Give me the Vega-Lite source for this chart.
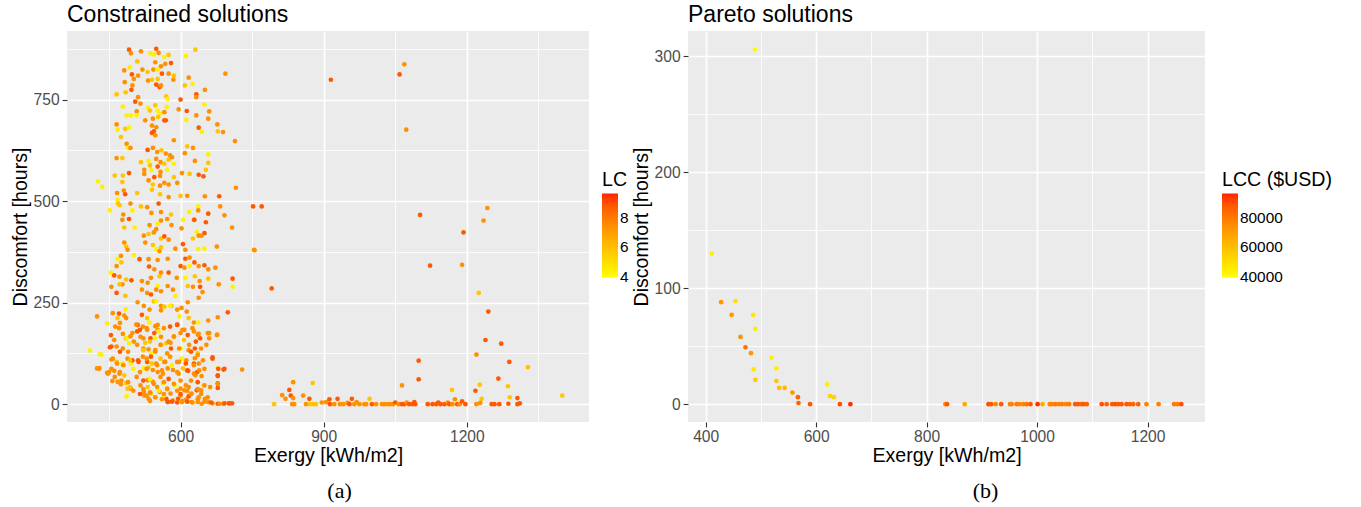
{
"$schema": "https://vega.github.io/schema/vega-lite/v6.json",
"background": "white",
"padding": {"left": 10, "top": 4, "right": 0, "bottom": 0},
"spacing": 2,
"resolve": {"scale": {"color": "independent"}, "legend": {"color": "independent"}},
"datasets": {
"constrained": [
{"exergy":492,"discomfort":873,"lcc":88000},{"exergy":549,"discomfort":875,"lcc":88000},{"exergy":496,"discomfort":864,"lcc":74000},{"exergy":517,"discomfort":869,"lcc":74000},{"exergy":537,"discomfort":864,"lcc":44000},{"exergy":544,"discomfort":861,"lcc":44000},{"exergy":554,"discomfort":865,"lcc":74000},{"exergy":566,"discomfort":855,"lcc":44000},{"exergy":575,"discomfort":860,"lcc":58000},{"exergy":611,"discomfort":857,"lcc":44000},{"exergy":631,"discomfort":873,"lcc":58000},{"exergy":568,"discomfort":838,"lcc":74000},{"exergy":580,"discomfort":840,"lcc":88000},{"exergy":547,"discomfort":842,"lcc":74000},{"exergy":559,"discomfort":832,"lcc":74000},{"exergy":509,"discomfort":844,"lcc":58000},{"exergy":494,"discomfort":830,"lcc":44000},{"exergy":482,"discomfort":822,"lcc":74000},{"exergy":520,"discomfort":824,"lcc":74000},{"exergy":531,"discomfort":818,"lcc":58000},{"exergy":543,"discomfort":824,"lcc":74000},{"exergy":552,"discomfort":824,"lcc":44000},{"exergy":498,"discomfort":812,"lcc":88000},{"exergy":502,"discomfort":801,"lcc":74000},{"exergy":511,"discomfort":809,"lcc":74000},{"exergy":561,"discomfort":814,"lcc":88000},{"exergy":575,"discomfort":814,"lcc":74000},{"exergy":586,"discomfort":809,"lcc":58000},{"exergy":617,"discomfort":804,"lcc":74000},{"exergy":585,"discomfort":799,"lcc":74000},{"exergy":532,"discomfort":797,"lcc":74000},{"exergy":540,"discomfort":799,"lcc":58000},{"exergy":552,"discomfort":801,"lcc":58000},{"exergy":483,"discomfort":793,"lcc":74000},{"exergy":485,"discomfort":768,"lcc":58000},{"exergy":499,"discomfort":785,"lcc":74000},{"exergy":549,"discomfort":787,"lcc":88000},{"exergy":556,"discomfort":781,"lcc":88000},{"exergy":559,"discomfort":785,"lcc":74000},{"exergy":609,"discomfort":785,"lcc":58000},{"exergy":625,"discomfort":789,"lcc":44000},{"exergy":651,"discomfort":774,"lcc":74000},{"exergy":497,"discomfort":774,"lcc":88000},{"exergy":466,"discomfort":763,"lcc":58000},{"exergy":633,"discomfort":763,"lcc":88000},{"exergy":633,"discomfort":756,"lcc":74000},{"exergy":570,"discomfort":758,"lcc":58000},{"exergy":573,"discomfort":752,"lcc":44000},{"exergy":600,"discomfort":750,"lcc":88000},{"exergy":694,"discomfort":814,"lcc":74000},{"exergy":511,"discomfort":756,"lcc":74000},{"exergy":505,"discomfort":745,"lcc":88000},{"exergy":516,"discomfort":740,"lcc":74000},{"exergy":479,"discomfort":733,"lcc":44000},{"exergy":532,"discomfort":730,"lcc":44000},{"exergy":536,"discomfort":723,"lcc":58000},{"exergy":547,"discomfort":736,"lcc":58000},{"exergy":552,"discomfort":723,"lcc":44000},{"exergy":557,"discomfort":715,"lcc":44000},{"exergy":566,"discomfort":719,"lcc":74000},{"exergy":571,"discomfort":732,"lcc":44000},{"exergy":508,"discomfort":721,"lcc":74000},{"exergy":508,"discomfort":711,"lcc":44000},{"exergy":487,"discomfort":711,"lcc":44000},{"exergy":496,"discomfort":711,"lcc":44000},{"exergy":542,"discomfort":703,"lcc":74000},{"exergy":553,"discomfort":707,"lcc":58000},{"exergy":566,"discomfort":699,"lcc":88000},{"exergy":569,"discomfort":699,"lcc":88000},{"exergy":526,"discomfort":699,"lcc":74000},{"exergy":596,"discomfort":726,"lcc":74000},{"exergy":613,"discomfort":722,"lcc":88000},{"exergy":650,"discomfort":738,"lcc":44000},{"exergy":660,"discomfort":721,"lcc":74000},{"exergy":633,"discomfort":711,"lcc":74000},{"exergy":612,"discomfort":700,"lcc":44000},{"exergy":658,"discomfort":703,"lcc":74000},{"exergy":466,"discomfort":689,"lcc":74000},{"exergy":484,"discomfort":678,"lcc":58000},{"exergy":492,"discomfort":681,"lcc":44000},{"exergy":540,"discomfort":686,"lcc":74000},{"exergy":549,"discomfort":682,"lcc":74000},{"exergy":544,"discomfort":672,"lcc":88000},{"exergy":540,"discomfort":668,"lcc":88000},{"exergy":547,"discomfort":662,"lcc":74000},{"exergy":468,"discomfort":676,"lcc":44000},{"exergy":475,"discomfort":658,"lcc":58000},{"exergy":638,"discomfort":681,"lcc":88000},{"exergy":645,"discomfort":670,"lcc":44000},{"exergy":677,"discomfort":689,"lcc":74000},{"exergy":678,"discomfort":672,"lcc":58000},{"exergy":689,"discomfort":670,"lcc":74000},{"exergy":714,"discomfort":648,"lcc":74000},{"exergy":586,"discomfort":650,"lcc":74000},{"exergy":487,"discomfort":641,"lcc":74000},{"exergy":490,"discomfort":631,"lcc":44000},{"exergy":495,"discomfort":631,"lcc":74000},{"exergy":531,"discomfort":626,"lcc":88000},{"exergy":542,"discomfort":631,"lcc":74000},{"exergy":551,"discomfort":621,"lcc":74000},{"exergy":560,"discomfort":625,"lcc":58000},{"exergy":569,"discomfort":617,"lcc":74000},{"exergy":578,"discomfort":613,"lcc":74000},{"exergy":614,"discomfort":635,"lcc":58000},{"exergy":626,"discomfort":631,"lcc":74000},{"exergy":658,"discomfort":615,"lcc":44000},{"exergy":609,"discomfort":618,"lcc":74000},{"exergy":466,"discomfort":606,"lcc":74000},{"exergy":478,"discomfort":606,"lcc":58000},{"exergy":517,"discomfort":596,"lcc":58000},{"exergy":533,"discomfort":599,"lcc":44000},{"exergy":536,"discomfort":588,"lcc":58000},{"exergy":549,"discomfort":604,"lcc":74000},{"exergy":558,"discomfort":596,"lcc":74000},{"exergy":566,"discomfort":592,"lcc":58000},{"exergy":575,"discomfort":602,"lcc":58000},{"exergy":582,"discomfort":608,"lcc":74000},{"exergy":586,"discomfort":592,"lcc":44000},{"exergy":630,"discomfort":599,"lcc":74000},{"exergy":658,"discomfort":594,"lcc":58000},{"exergy":653,"discomfort":577,"lcc":58000},{"exergy":524,"discomfort":577,"lcc":74000},{"exergy":539,"discomfort":576,"lcc":44000},{"exergy":552,"discomfort":585,"lcc":88000},{"exergy":558,"discomfort":572,"lcc":74000},{"exergy":572,"discomfort":577,"lcc":44000},{"exergy":462,"discomfort":563,"lcc":58000},{"exergy":479,"discomfort":563,"lcc":58000},{"exergy":492,"discomfort":569,"lcc":88000},{"exergy":427,"discomfort":549,"lcc":44000},{"exergy":436,"discomfort":535,"lcc":44000},{"exergy":524,"discomfort":567,"lcc":74000},{"exergy":545,"discomfort":559,"lcc":88000},{"exergy":557,"discomfort":562,"lcc":74000},{"exergy":586,"discomfort":559,"lcc":58000},{"exergy":603,"discomfort":569,"lcc":74000},{"exergy":619,"discomfort":567,"lcc":58000},{"exergy":638,"discomfort":565,"lcc":88000},{"exergy":648,"discomfort":561,"lcc":88000},{"exergy":593,"discomfort":545,"lcc":74000},{"exergy":478,"discomfort":547,"lcc":58000},{"exergy":481,"discomfort":526,"lcc":74000},{"exergy":484,"discomfort":517,"lcc":88000},{"exergy":533,"discomfort":551,"lcc":74000},{"exergy":542,"discomfort":541,"lcc":58000},{"exergy":557,"discomfort":538,"lcc":74000},{"exergy":566,"discomfort":545,"lcc":74000},{"exergy":575,"discomfort":541,"lcc":74000},{"exergy":540,"discomfort":528,"lcc":58000},{"exergy":557,"discomfort":517,"lcc":58000},{"exergy":575,"discomfort":510,"lcc":74000},{"exergy":509,"discomfort":520,"lcc":58000},{"exergy":467,"discomfort":520,"lcc":74000},{"exergy":468,"discomfort":503,"lcc":44000},{"exergy":469,"discomfort":494,"lcc":58000},{"exergy":472,"discomfort":490,"lcc":58000},{"exergy":495,"discomfort":494,"lcc":74000},{"exergy":499,"discomfort":477,"lcc":44000},{"exergy":480,"discomfort":467,"lcc":74000},{"exergy":517,"discomfort":487,"lcc":58000},{"exergy":530,"discomfort":485,"lcc":74000},{"exergy":539,"discomfort":471,"lcc":74000},{"exergy":554,"discomfort":494,"lcc":88000},{"exergy":559,"discomfort":473,"lcc":74000},{"exergy":580,"discomfort":467,"lcc":58000},{"exergy":618,"discomfort":473,"lcc":44000},{"exergy":637,"discomfort":487,"lcc":44000},{"exergy":637,"discomfort":477,"lcc":74000},{"exergy":628,"discomfort":454,"lcc":74000},{"exergy":658,"discomfort":469,"lcc":88000},{"exergy":651,"discomfort":512,"lcc":74000},{"exergy":681,"discomfort":512,"lcc":88000},{"exergy":683,"discomfort":487,"lcc":74000},{"exergy":692,"discomfort":465,"lcc":74000},{"exergy":716,"discomfort":533,"lcc":74000},{"exergy":752,"discomfort":487,"lcc":88000},{"exergy":770,"discomfort":487,"lcc":88000},{"exergy":452,"discomfort":477,"lcc":44000},{"exergy":600,"discomfort":513,"lcc":58000},{"exergy":614,"discomfort":513,"lcc":74000},
{"exergy":478,"discomfort":454,"lcc":74000},{"exergy":492,"discomfort":456,"lcc":88000},{"exergy":559,"discomfort":452,"lcc":74000},{"exergy":572,"discomfort":456,"lcc":74000},{"exergy":605,"discomfort":454,"lcc":44000},{"exergy":629,"discomfort":454,"lcc":88000},{"exergy":653,"discomfort":448,"lcc":88000},{"exergy":708,"discomfort":435,"lcc":74000},{"exergy":482,"discomfort":435,"lcc":58000},{"exergy":504,"discomfort":435,"lcc":44000},{"exergy":535,"discomfort":441,"lcc":74000},{"exergy":552,"discomfort":444,"lcc":44000},{"exergy":549,"discomfort":431,"lcc":74000},{"exergy":581,"discomfort":441,"lcc":74000},{"exergy":602,"discomfort":433,"lcc":74000},{"exergy":634,"discomfort":423,"lcc":44000},{"exergy":650,"discomfort":421,"lcc":88000},{"exergy":644,"discomfort":415,"lcc":74000},
{"exergy":523,"discomfort":415,"lcc":74000},{"exergy":533,"discomfort":419,"lcc":58000},{"exergy":544,"discomfort":423,"lcc":74000},{"exergy":559,"discomfort":408,"lcc":58000},{"exergy":566,"discomfort":413,"lcc":88000},{"exergy":575,"discomfort":405,"lcc":74000},{"exergy":482,"discomfort":398,"lcc":74000},{"exergy":486,"discomfort":388,"lcc":58000},{"exergy":489,"discomfort":380,"lcc":74000},{"exergy":526,"discomfort":398,"lcc":74000},{"exergy":542,"discomfort":392,"lcc":58000},{"exergy":549,"discomfort":382,"lcc":44000},{"exergy":556,"discomfort":377,"lcc":74000},{"exergy":559,"discomfort":386,"lcc":58000},{"exergy":589,"discomfort":383,"lcc":74000},{"exergy":605,"discomfort":394,"lcc":88000},{"exergy":626,"discomfort":408,"lcc":58000},{"exergy":638,"discomfort":415,"lcc":74000},{"exergy":637,"discomfort":382,"lcc":44000},{"exergy":650,"discomfort":383,"lcc":44000},{"exergy":676,"discomfort":388,"lcc":74000},{"exergy":754,"discomfort":380,"lcc":74000},{"exergy":475,"discomfort":365,"lcc":74000},{"exergy":502,"discomfort":367,"lcc":44000},{"exergy":514,"discomfort":357,"lcc":88000},{"exergy":533,"discomfort":357,"lcc":74000},{"exergy":552,"discomfort":355,"lcc":74000},{"exergy":573,"discomfort":358,"lcc":74000},{"exergy":610,"discomfort":380,"lcc":74000},{"exergy":610,"discomfort":358,"lcc":88000},{"exergy":619,"discomfort":361,"lcc":74000},
{"exergy":468,"discomfort":358,"lcc":44000},{"exergy":476,"discomfort":349,"lcc":58000},{"exergy":466,"discomfort":340,"lcc":74000},{"exergy":454,"discomfort":324,"lcc":44000},{"exergy":461,"discomfort":317,"lcc":88000},{"exergy":472,"discomfort":314,"lcc":74000},{"exergy":486,"discomfort":307,"lcc":58000},{"exergy":478,"discomfort":295,"lcc":74000},{"exergy":497,"discomfort":305,"lcc":88000},{"exergy":534,"discomfort":339,"lcc":88000},{"exergy":545,"discomfort":332,"lcc":74000},{"exergy":556,"discomfort":315,"lcc":58000},{"exergy":559,"discomfort":324,"lcc":74000},{"exergy":538,"discomfort":311,"lcc":74000},{"exergy":575,"discomfort":324,"lcc":88000},{"exergy":592,"discomfort":311,"lcc":74000},{"exergy":600,"discomfort":340,"lcc":88000},{"exergy":608,"discomfort":336,"lcc":74000},{"exergy":619,"discomfort":340,"lcc":44000},{"exergy":629,"discomfort":349,"lcc":88000},{"exergy":638,"discomfort":340,"lcc":74000},{"exergy":650,"discomfort":342,"lcc":88000},{"exergy":658,"discomfort":332,"lcc":74000},{"exergy":673,"discomfort":336,"lcc":74000},{"exergy":630,"discomfort":315,"lcc":58000},{"exergy":640,"discomfort":303,"lcc":74000},{"exergy":658,"discomfort":309,"lcc":58000},{"exergy":610,"discomfort":311,"lcc":44000},{"exergy":709,"discomfort":309,"lcc":88000},{"exergy":709,"discomfort":289,"lcc":44000},{"exergy":680,"discomfort":295,"lcc":74000},{"exergy":519,"discomfort":303,"lcc":74000},{"exergy":531,"discomfort":299,"lcc":74000},{"exergy":552,"discomfort":291,"lcc":44000},
{"exergy":455,"discomfort":289,"lcc":74000},{"exergy":472,"discomfort":295,"lcc":58000},{"exergy":466,"discomfort":274,"lcc":88000},{"exergy":484,"discomfort":267,"lcc":58000},{"exergy":519,"discomfort":282,"lcc":74000},{"exergy":530,"discomfort":274,"lcc":74000},{"exergy":538,"discomfort":270,"lcc":88000},{"exergy":549,"discomfort":282,"lcc":74000},{"exergy":559,"discomfort":278,"lcc":74000},{"exergy":573,"discomfort":291,"lcc":74000},{"exergy":584,"discomfort":282,"lcc":74000},{"exergy":589,"discomfort":266,"lcc":44000},{"exergy":615,"discomfort":291,"lcc":58000},{"exergy":626,"discomfort":289,"lcc":74000},{"exergy":641,"discomfort":289,"lcc":88000},{"exergy":646,"discomfort":276,"lcc":74000},{"exergy":638,"discomfort":262,"lcc":74000},{"exergy":615,"discomfort":251,"lcc":74000},{"exergy":510,"discomfort":251,"lcc":74000},{"exergy":544,"discomfort":253,"lcc":58000},{"exergy":549,"discomfort":253,"lcc":44000},{"exergy":559,"discomfort":242,"lcc":74000},{"exergy":581,"discomfort":242,"lcc":58000},
{"exergy":425,"discomfort":216,"lcc":74000},{"exergy":446,"discomfort":199,"lcc":44000},{"exergy":458,"discomfort":224,"lcc":74000},{"exergy":471,"discomfort":223,"lcc":88000},{"exergy":482,"discomfort":218,"lcc":74000},{"exergy":486,"discomfort":212,"lcc":74000},{"exergy":468,"discomfort":212,"lcc":58000},{"exergy":463,"discomfort":191,"lcc":74000},{"exergy":485,"discomfort":234,"lcc":44000},{"exergy":523,"discomfort":242,"lcc":74000},{"exergy":519,"discomfort":220,"lcc":88000},{"exergy":530,"discomfort":212,"lcc":58000},{"exergy":535,"discomfort":233,"lcc":74000},{"exergy":559,"discomfort":231,"lcc":74000},{"exergy":566,"discomfort":240,"lcc":58000},{"exergy":578,"discomfort":242,"lcc":44000},{"exergy":593,"discomfort":233,"lcc":74000},{"exergy":602,"discomfort":237,"lcc":74000},{"exergy":613,"discomfort":228,"lcc":74000},{"exergy":598,"discomfort":216,"lcc":44000},{"exergy":617,"discomfort":212,"lcc":58000},{"exergy":628,"discomfort":201,"lcc":74000},{"exergy":637,"discomfort":201,"lcc":44000},{"exergy":593,"discomfort":195,"lcc":88000},{"exergy":578,"discomfort":191,"lcc":88000},{"exergy":552,"discomfort":195,"lcc":74000},{"exergy":510,"discomfort":195,"lcc":88000},{"exergy":521,"discomfort":191,"lcc":74000},{"exergy":530,"discomfort":183,"lcc":74000},{"exergy":535,"discomfort":201,"lcc":44000},{"exergy":678,"discomfort":214,"lcc":74000},{"exergy":699,"discomfort":226,"lcc":88000},{"exergy":658,"discomfort":206,"lcc":74000},
{"exergy":454,"discomfort":170,"lcc":88000},{"exergy":471,"discomfort":187,"lcc":74000},{"exergy":479,"discomfort":173,"lcc":74000},{"exergy":461,"discomfort":158,"lcc":74000},{"exergy":492,"discomfort":150,"lcc":44000},{"exergy":486,"discomfort":162,"lcc":74000},{"exergy":452,"discomfort":140,"lcc":88000},{"exergy":479,"discomfort":137,"lcc":74000},{"exergy":499,"discomfort":175,"lcc":74000},{"exergy":509,"discomfort":179,"lcc":88000},{"exergy":516,"discomfort":166,"lcc":74000},{"exergy":526,"discomfort":151,"lcc":58000},{"exergy":537,"discomfort":162,"lcc":88000},{"exergy":545,"discomfort":175,"lcc":88000},{"exergy":552,"discomfort":183,"lcc":74000},{"exergy":559,"discomfort":166,"lcc":74000},{"exergy":570,"discomfort":150,"lcc":58000},{"exergy":579,"discomfort":151,"lcc":74000},{"exergy":586,"discomfort":166,"lcc":74000},{"exergy":600,"discomfort":175,"lcc":74000},{"exergy":608,"discomfort":183,"lcc":74000},{"exergy":615,"discomfort":170,"lcc":88000},{"exergy":628,"discomfort":179,"lcc":74000},{"exergy":638,"discomfort":173,"lcc":74000},{"exergy":641,"discomfort":162,"lcc":88000},{"exergy":657,"discomfort":175,"lcc":74000},{"exergy":676,"discomfort":170,"lcc":74000},{"exergy":660,"discomfort":162,"lcc":74000},{"exergy":522,"discomfort":137,"lcc":74000},{"exergy":533,"discomfort":135,"lcc":74000},{"exergy":538,"discomfort":125,"lcc":44000},{"exergy":547,"discomfort":133,"lcc":74000},{"exergy":559,"discomfort":146,"lcc":58000},{"exergy":580,"discomfort":137,"lcc":88000},{"exergy":600,"discomfort":137,"lcc":44000},{"exergy":617,"discomfort":133,"lcc":74000},{"exergy":630,"discomfort":137,"lcc":88000},{"exergy":636,"discomfort":125,"lcc":58000},{"exergy":630,"discomfort":113,"lcc":74000},
{"exergy":410,"discomfort":132,"lcc":44000},{"exergy":431,"discomfort":123,"lcc":44000},{"exergy":455,"discomfort":110,"lcc":74000},{"exergy":466,"discomfort":104,"lcc":58000},{"exergy":478,"discomfort":100,"lcc":44000},{"exergy":489,"discomfort":112,"lcc":74000},{"exergy":496,"discomfort":100,"lcc":44000},{"exergy":499,"discomfort":108,"lcc":88000},{"exergy":425,"discomfort":88,"lcc":74000},{"exergy":446,"discomfort":77,"lcc":74000},{"exergy":461,"discomfort":82,"lcc":74000},{"exergy":472,"discomfort":75,"lcc":74000},{"exergy":482,"discomfort":71,"lcc":58000},{"exergy":511,"discomfort":108,"lcc":88000},{"exergy":521,"discomfort":117,"lcc":74000},{"exergy":530,"discomfort":104,"lcc":88000},{"exergy":538,"discomfort":117,"lcc":88000},{"exergy":549,"discomfort":100,"lcc":74000},{"exergy":558,"discomfort":112,"lcc":58000},{"exergy":566,"discomfort":104,"lcc":74000},{"exergy":578,"discomfort":117,"lcc":74000},{"exergy":593,"discomfort":104,"lcc":74000},{"exergy":602,"discomfort":112,"lcc":44000},{"exergy":612,"discomfort":108,"lcc":74000},{"exergy":628,"discomfort":100,"lcc":88000},{"exergy":638,"discomfort":100,"lcc":74000},{"exergy":647,"discomfort":108,"lcc":74000},{"exergy":667,"discomfort":115,"lcc":88000},{"exergy":678,"discomfort":88,"lcc":44000},{"exergy":690,"discomfort":85,"lcc":88000},{"exergy":729,"discomfort":85,"lcc":74000},{"exergy":523,"discomfort":88,"lcc":44000},{"exergy":533,"discomfort":90,"lcc":58000},{"exergy":542,"discomfort":84,"lcc":74000},{"exergy":552,"discomfort":79,"lcc":74000},{"exergy":563,"discomfort":75,"lcc":74000},{"exergy":573,"discomfort":88,"lcc":74000},{"exergy":584,"discomfort":84,"lcc":74000},{"exergy":596,"discomfort":75,"lcc":74000},{"exergy":605,"discomfort":88,"lcc":58000},{"exergy":616,"discomfort":82,"lcc":88000},{"exergy":628,"discomfort":75,"lcc":74000},{"exergy":635,"discomfort":79,"lcc":88000},{"exergy":644,"discomfort":69,"lcc":74000},{"exergy":678,"discomfort":69,"lcc":88000},
{"exergy":457,"discomfort":57,"lcc":74000},{"exergy":468,"discomfort":55,"lcc":74000},{"exergy":475,"discomfort":49,"lcc":74000},{"exergy":486,"discomfort":52,"lcc":58000},{"exergy":489,"discomfort":38,"lcc":58000},{"exergy":496,"discomfort":38,"lcc":74000},{"exergy":487,"discomfort":19,"lcc":44000},{"exergy":516,"discomfort":46,"lcc":74000},{"exergy":523,"discomfort":30,"lcc":74000},{"exergy":531,"discomfort":59,"lcc":74000},{"exergy":531,"discomfort":42,"lcc":58000},{"exergy":542,"discomfort":55,"lcc":74000},{"exergy":551,"discomfort":42,"lcc":74000},{"exergy":556,"discomfort":30,"lcc":74000},{"exergy":547,"discomfort":17,"lcc":58000},{"exergy":563,"discomfort":52,"lcc":44000},{"exergy":572,"discomfort":38,"lcc":74000},{"exergy":579,"discomfort":26,"lcc":74000},{"exergy":588,"discomfort":46,"lcc":44000},{"exergy":600,"discomfort":38,"lcc":74000},{"exergy":608,"discomfort":34,"lcc":74000},{"exergy":617,"discomfort":42,"lcc":74000},{"exergy":623,"discomfort":26,"lcc":74000},{"exergy":634,"discomfort":34,"lcc":88000},{"exergy":643,"discomfort":34,"lcc":74000},{"exergy":638,"discomfort":17,"lcc":74000},{"exergy":651,"discomfort":13,"lcc":74000},{"exergy":658,"discomfort":5,"lcc":74000},{"exergy":570,"discomfort":13,"lcc":88000},{"exergy":573,"discomfort":5,"lcc":88000},{"exergy":584,"discomfort":9,"lcc":74000},{"exergy":595,"discomfort":13,"lcc":88000},{"exergy":603,"discomfort":5,"lcc":74000},{"exergy":612,"discomfort":11,"lcc":74000},{"exergy":623,"discomfort":5,"lcc":74000},{"exergy":636,"discomfort":5,"lcc":74000},{"exergy":644,"discomfort":1,"lcc":74000},{"exergy":667,"discomfort":2,"lcc":74000},{"exergy":678,"discomfort":1,"lcc":88000},{"exergy":690,"discomfort":1,"lcc":74000},{"exergy":701,"discomfort":2,"lcc":88000},{"exergy":708,"discomfort":2,"lcc":88000},{"exergy":538,"discomfort":26,"lcc":58000},{"exergy":533,"discomfort":13,"lcc":74000},{"exergy":524,"discomfort":21,"lcc":74000},{"exergy":565,"discomfort":21,"lcc":44000},{"exergy":600,"discomfort":21,"lcc":74000},{"exergy":617,"discomfort":19,"lcc":88000},{"exergy":678,"discomfort":51,"lcc":88000},{"exergy":678,"discomfort":40,"lcc":88000},{"exergy":648,"discomfort":46,"lcc":44000},{"exergy":662,"discomfort":42,"lcc":74000},{"exergy":430,"discomfort":89,"lcc":74000},{"exergy":450,"discomfort":79,"lcc":74000},
{"exergy":473,"discomfort":200,"lcc":74000},{"exergy":507,"discomfort":196,"lcc":74000},{"exergy":515,"discomfort":183,"lcc":88000},{"exergy":529,"discomfort":187,"lcc":74000},{"exergy":547,"discomfort":192,"lcc":74000},{"exergy":554,"discomfort":179,"lcc":44000},{"exergy":565,"discomfort":187,"lcc":74000},{"exergy":593,"discomfort":196,"lcc":88000},{"exergy":604,"discomfort":183,"lcc":74000},{"exergy":625,"discomfort":187,"lcc":74000},{"exergy":636,"discomfort":171,"lcc":74000},{"exergy":660,"discomfort":175,"lcc":74000},{"exergy":677,"discomfort":171,"lcc":74000},
{"exergy":455,"discomfort":142,"lcc":88000},{"exergy":466,"discomfort":142,"lcc":74000},{"exergy":487,"discomfort":162,"lcc":44000},{"exergy":495,"discomfort":167,"lcc":74000},{"exergy":502,"discomfort":154,"lcc":74000},{"exergy":509,"discomfort":146,"lcc":74000},{"exergy":522,"discomfort":162,"lcc":74000},{"exergy":536,"discomfort":154,"lcc":58000},{"exergy":547,"discomfort":162,"lcc":44000},{"exergy":558,"discomfort":146,"lcc":74000},{"exergy":575,"discomfort":154,"lcc":74000},{"exergy":586,"discomfort":167,"lcc":74000},{"exergy":597,"discomfort":137,"lcc":74000},{"exergy":607,"discomfort":158,"lcc":58000},{"exergy":618,"discomfort":146,"lcc":74000},{"exergy":632,"discomfort":154,"lcc":88000},{"exergy":643,"discomfort":137,"lcc":74000},{"exergy":654,"discomfort":146,"lcc":74000},{"exergy":667,"discomfort":112,"lcc":88000},{"exergy":473,"discomfort":129,"lcc":88000},{"exergy":490,"discomfort":129,"lcc":74000},{"exergy":522,"discomfort":133,"lcc":58000},{"exergy":547,"discomfort":129,"lcc":74000},{"exergy":572,"discomfort":125,"lcc":74000},{"exergy":622,"discomfort":129,"lcc":88000},{"exergy":636,"discomfort":121,"lcc":74000},
{"exergy":434,"discomfort":122,"lcc":44000},{"exergy":458,"discomfort":112,"lcc":74000},{"exergy":467,"discomfort":100,"lcc":74000},{"exergy":480,"discomfort":96,"lcc":74000},{"exergy":494,"discomfort":108,"lcc":58000},{"exergy":512,"discomfort":104,"lcc":88000},{"exergy":529,"discomfort":112,"lcc":74000},{"exergy":540,"discomfort":100,"lcc":58000},{"exergy":551,"discomfort":96,"lcc":74000},{"exergy":568,"discomfort":104,"lcc":74000},{"exergy":582,"discomfort":96,"lcc":44000},{"exergy":597,"discomfort":104,"lcc":74000},{"exergy":611,"discomfort":100,"lcc":88000},{"exergy":628,"discomfort":96,"lcc":74000},{"exergy":639,"discomfort":83,"lcc":74000},{"exergy":650,"discomfort":87,"lcc":74000},{"exergy":679,"discomfort":87,"lcc":88000},{"exergy":692,"discomfort":87,"lcc":88000},{"exergy":455,"discomfort":87,"lcc":74000},{"exergy":473,"discomfort":79,"lcc":74000},{"exergy":501,"discomfort":87,"lcc":44000},{"exergy":515,"discomfort":79,"lcc":74000},{"exergy":529,"discomfort":87,"lcc":74000},{"exergy":561,"discomfort":83,"lcc":74000},{"exergy":593,"discomfort":79,"lcc":74000},{"exergy":614,"discomfort":83,"lcc":88000},{"exergy":631,"discomfort":71,"lcc":74000},
{"exergy":429,"discomfort":87,"lcc":74000},{"exergy":448,"discomfort":75,"lcc":74000},{"exergy":462,"discomfort":67,"lcc":74000},{"exergy":476,"discomfort":58,"lcc":74000},{"exergy":490,"discomfort":54,"lcc":74000},{"exergy":494,"discomfort":42,"lcc":58000},{"exergy":508,"discomfort":67,"lcc":74000},{"exergy":522,"discomfort":58,"lcc":88000},{"exergy":536,"discomfort":62,"lcc":44000},{"exergy":544,"discomfort":50,"lcc":74000},{"exergy":558,"discomfort":67,"lcc":74000},{"exergy":565,"discomfort":54,"lcc":74000},{"exergy":575,"discomfort":62,"lcc":88000},{"exergy":586,"discomfort":50,"lcc":74000},{"exergy":600,"discomfort":58,"lcc":74000},{"exergy":611,"discomfort":46,"lcc":74000},{"exergy":622,"discomfort":58,"lcc":74000},{"exergy":636,"discomfort":54,"lcc":88000},{"exergy":650,"discomfort":46,"lcc":74000},{"exergy":678,"discomfort":71,"lcc":88000},{"exergy":678,"discomfort":50,"lcc":74000},{"exergy":501,"discomfort":33,"lcc":74000},{"exergy":522,"discomfort":37,"lcc":74000},{"exergy":536,"discomfort":29,"lcc":74000},{"exergy":554,"discomfort":33,"lcc":44000},{"exergy":572,"discomfort":37,"lcc":74000},{"exergy":593,"discomfort":33,"lcc":74000},{"exergy":614,"discomfort":33,"lcc":74000},{"exergy":636,"discomfort":37,"lcc":74000},
{"exergy":515,"discomfort":25,"lcc":88000},{"exergy":529,"discomfort":21,"lcc":74000},{"exergy":547,"discomfort":17,"lcc":74000},{"exergy":565,"discomfort":25,"lcc":74000},{"exergy":573,"discomfort":6,"lcc":88000},{"exergy":582,"discomfort":6,"lcc":88000},{"exergy":593,"discomfort":4,"lcc":88000},{"exergy":604,"discomfort":8,"lcc":74000},{"exergy":614,"discomfort":6,"lcc":88000},{"exergy":625,"discomfort":4,"lcc":74000},{"exergy":636,"discomfort":12,"lcc":74000},{"exergy":650,"discomfort":6,"lcc":74000},{"exergy":664,"discomfort":4,"lcc":88000},{"exergy":682,"discomfort":1,"lcc":74000},{"exergy":692,"discomfort":2,"lcc":88000},{"exergy":703,"discomfort":2,"lcc":88000},{"exergy":600,"discomfort":25,"lcc":88000},{"exergy":622,"discomfort":25,"lcc":74000},{"exergy":643,"discomfort":25,"lcc":74000},{"exergy":657,"discomfort":17,"lcc":74000},{"exergy":561,"discomfort":12,"lcc":74000},{"exergy":536,"discomfort":8,"lcc":74000},
{"exergy":755,"discomfort":379,"lcc":74000},{"exergy":791,"discomfort":285,"lcc":88000},{"exergy":1193,"discomfort":423,"lcc":88000},{"exergy":1123,"discomfort":341,"lcc":88000},{"exergy":1190,"discomfort":343,"lcc":74000},{"exergy":1225,"discomfort":274,"lcc":58000},{"exergy":1245,"discomfort":228,"lcc":88000},{"exergy":1239,"discomfort":158,"lcc":88000},{"exergy":1272,"discomfort":149,"lcc":88000},{"exergy":1220,"discomfort":122,"lcc":74000},{"exergy":1289,"discomfort":104,"lcc":88000},{"exergy":1328,"discomfort":91,"lcc":58000},{"exergy":1099,"discomfort":107,"lcc":88000},{"exergy":1099,"discomfort":61,"lcc":88000},{"exergy":1064,"discomfort":46,"lcc":74000},{"exergy":877,"discomfort":52,"lcc":58000},{"exergy":836,"discomfort":54,"lcc":74000},{"exergy":828,"discomfort":35,"lcc":88000},{"exergy":813,"discomfort":22,"lcc":74000},{"exergy":820,"discomfort":13,"lcc":74000},{"exergy":831,"discomfort":21,"lcc":88000},{"exergy":836,"discomfort":15,"lcc":74000},{"exergy":857,"discomfort":21,"lcc":74000},{"exergy":870,"discomfort":13,"lcc":88000},{"exergy":796,"discomfort":0,"lcc":58000},{"exergy":834,"discomfort":0,"lcc":74000},{"exergy":838,"discomfort":0,"lcc":74000},{"exergy":863,"discomfort":0,"lcc":74000},{"exergy":871,"discomfort":0,"lcc":58000},{"exergy":878,"discomfort":0,"lcc":58000},{"exergy":884,"discomfort":0,"lcc":58000},{"exergy":896,"discomfort":4,"lcc":74000},{"exergy":905,"discomfort":5,"lcc":74000},{"exergy":912,"discomfort":12,"lcc":88000},{"exergy":913,"discomfort":0,"lcc":88000},{"exergy":922,"discomfort":0,"lcc":74000},{"exergy":929,"discomfort":13,"lcc":88000},{"exergy":934,"discomfort":0,"lcc":74000},{"exergy":941,"discomfort":0,"lcc":74000},{"exergy":950,"discomfort":3,"lcc":74000},{"exergy":954,"discomfort":0,"lcc":88000},{"exergy":959,"discomfort":13,"lcc":88000},{"exergy":964,"discomfort":0,"lcc":74000},{"exergy":969,"discomfort":5,"lcc":74000},{"exergy":975,"discomfort":0,"lcc":74000},{"exergy":985,"discomfort":0,"lcc":74000},{"exergy":989,"discomfort":0,"lcc":74000},{"exergy":996,"discomfort":13,"lcc":58000},{"exergy":1001,"discomfort":0,"lcc":88000},{"exergy":1010,"discomfort":0,"lcc":74000},{"exergy":1022,"discomfort":0,"lcc":74000},{"exergy":1027,"discomfort":0,"lcc":74000},{"exergy":1034,"discomfort":0,"lcc":74000},{"exergy":1039,"discomfort":0,"lcc":74000},{"exergy":1045,"discomfort":0,"lcc":74000},{"exergy":1050,"discomfort":4,"lcc":88000},{"exergy":1057,"discomfort":0,"lcc":74000},{"exergy":1064,"discomfort":0,"lcc":88000},{"exergy":1069,"discomfort":0,"lcc":88000},{"exergy":1074,"discomfort":4,"lcc":74000},{"exergy":1079,"discomfort":0,"lcc":88000},{"exergy":1086,"discomfort":0,"lcc":88000},{"exergy":1090,"discomfort":5,"lcc":88000},{"exergy":1092,"discomfort":0,"lcc":88000},{"exergy":1118,"discomfort":0,"lcc":88000},{"exergy":1128,"discomfort":0,"lcc":88000},{"exergy":1136,"discomfort":0,"lcc":88000},{"exergy":1140,"discomfort":4,"lcc":88000},{"exergy":1145,"discomfort":0,"lcc":88000},{"exergy":1153,"discomfort":0,"lcc":88000},{"exergy":1160,"discomfort":4,"lcc":74000},{"exergy":1163,"discomfort":0,"lcc":88000},{"exergy":1170,"discomfort":0,"lcc":74000},{"exergy":1169,"discomfort":35,"lcc":58000},{"exergy":1175,"discomfort":12,"lcc":74000},{"exergy":1180,"discomfort":0,"lcc":88000},{"exergy":1185,"discomfort":0,"lcc":74000},{"exergy":1190,"discomfort":7,"lcc":88000},{"exergy":1197,"discomfort":0,"lcc":88000},{"exergy":1218,"discomfort":33,"lcc":88000},{"exergy":1227,"discomfort":48,"lcc":58000},{"exergy":1231,"discomfort":13,"lcc":58000},{"exergy":1228,"discomfort":3,"lcc":74000},{"exergy":1220,"discomfort":0,"lcc":74000},{"exergy":1252,"discomfort":0,"lcc":88000},{"exergy":1258,"discomfort":0,"lcc":88000},{"exergy":1268,"discomfort":0,"lcc":88000},{"exergy":1266,"discomfort":63,"lcc":88000},{"exergy":1286,"discomfort":44,"lcc":58000},{"exergy":1290,"discomfort":17,"lcc":58000},{"exergy":1287,"discomfort":1,"lcc":88000},{"exergy":1306,"discomfort":15,"lcc":88000},{"exergy":1306,"discomfort":0,"lcc":88000},{"exergy":1311,"discomfort":2,"lcc":88000},{"exergy":1400,"discomfort":21,"lcc":58000},{"exergy":915,"discomfort":799,"lcc":88000},{"exergy":1059,"discomfort":812,"lcc":88000},{"exergy":1069,"discomfort":837,"lcc":74000},{"exergy":1073,"discomfort":676,"lcc":74000},{"exergy":1102,"discomfort":466,"lcc":88000},{"exergy":1243,"discomfort":483,"lcc":74000},{"exergy":1235,"discomfort":452,"lcc":74000}
],
"pareto": [
{"exergy":411,"discomfort":130,"lcc":45000},{"exergy":428,"discomfort":88,"lcc":72000},{"exergy":454,"discomfort":89,"lcc":50000},{"exergy":447,"discomfort":77,"lcc":72000},{"exergy":486,"discomfort":77,"lcc":48000},{"exergy":490,"discomfort":65,"lcc":46000},{"exergy":463,"discomfort":58,"lcc":74000},{"exergy":472,"discomfort":49,"lcc":82000},{"exergy":482,"discomfort":44,"lcc":72000},{"exergy":519,"discomfort":40,"lcc":44000},{"exergy":487,"discomfort":30,"lcc":47000},{"exergy":528,"discomfort":31,"lcc":45000},{"exergy":490,"discomfort":21,"lcc":57000},{"exergy":528,"discomfort":20,"lcc":58000},{"exergy":533,"discomfort":14,"lcc":60000},{"exergy":543,"discomfort":14,"lcc":62000},{"exergy":557,"discomfort":10,"lcc":72000},{"exergy":567,"discomfort":6,"lcc":86000},{"exergy":568,"discomfort":1,"lcc":86000},{"exergy":589,"discomfort":0,"lcc":88000},{"exergy":620,"discomfort":17,"lcc":44000},{"exergy":625,"discomfort":7,"lcc":54000},{"exergy":632,"discomfort":6,"lcc":54000},{"exergy":643,"discomfort":0,"lcc":90000},{"exergy":662,"discomfort":0,"lcc":95000},{"exergy":489,"discomfort":306,"lcc":40000},
{"exergy":834,"discomfort":0,"lcc":76000},{"exergy":837,"discomfort":0,"lcc":88000},{"exergy":869,"discomfort":0,"lcc":66000},{"exergy":912,"discomfort":0,"lcc":90000},{"exergy":917,"discomfort":0,"lcc":88000},{"exergy":925,"discomfort":0,"lcc":76000},{"exergy":935,"discomfort":0,"lcc":88000},{"exergy":951,"discomfort":0,"lcc":78000},{"exergy":954,"discomfort":0,"lcc":78000},{"exergy":963,"discomfort":0,"lcc":80000},{"exergy":968,"discomfort":0,"lcc":78000},{"exergy":975,"discomfort":0,"lcc":78000},{"exergy":981,"discomfort":0,"lcc":80000},{"exergy":988,"discomfort":0,"lcc":88000},{"exergy":1001,"discomfort":0,"lcc":95000},{"exergy":1010,"discomfort":0,"lcc":66000},{"exergy":1023,"discomfort":0,"lcc":78000},{"exergy":1027,"discomfort":0,"lcc":78000},{"exergy":1033,"discomfort":0,"lcc":80000},{"exergy":1039,"discomfort":0,"lcc":78000},{"exergy":1045,"discomfort":0,"lcc":80000},{"exergy":1052,"discomfort":0,"lcc":78000},{"exergy":1058,"discomfort":0,"lcc":80000},{"exergy":1069,"discomfort":0,"lcc":88000},{"exergy":1074,"discomfort":0,"lcc":88000},{"exergy":1080,"discomfort":0,"lcc":86000},{"exergy":1084,"discomfort":0,"lcc":88000},{"exergy":1090,"discomfort":0,"lcc":86000},{"exergy":1117,"discomfort":0,"lcc":90000},{"exergy":1126,"discomfort":0,"lcc":86000},{"exergy":1136,"discomfort":0,"lcc":88000},{"exergy":1142,"discomfort":0,"lcc":90000},{"exergy":1147,"discomfort":0,"lcc":88000},{"exergy":1153,"discomfort":0,"lcc":88000},{"exergy":1162,"discomfort":0,"lcc":88000},{"exergy":1168,"discomfort":0,"lcc":86000},{"exergy":1174,"discomfort":0,"lcc":86000},{"exergy":1183,"discomfort":0,"lcc":86000},{"exergy":1198,"discomfort":0,"lcc":78000},{"exergy":1220,"discomfort":0,"lcc":78000},{"exergy":1248,"discomfort":0,"lcc":80000},{"exergy":1254,"discomfort":0,"lcc":80000},{"exergy":1261,"discomfort":0,"lcc":90000}
]
},
"config": {
"font": "Liberation Sans",
"view": {"fill": "#EBEBEB", "stroke": null},
"axis": {"domain": false, "grid": true, "gridColor": "#FFFFFF", "tickColor": "#333333", "tickSize": 4.9, "tickWidth": 1.1, "labelColor": "#4D4D4D", "labelFont": "Liberation Sans", "labelFontSize": 15.6, "labelPadding": 3, "titleFont": "Liberation Sans", "titleFontSize": 19.6, "titleFontWeight": "normal", "titleColor": "#000000", "labelOverlap": false, "labelFlush": false, "format": "d"},
"legend": {"titleFont": "Liberation Sans", "titleFontSize": 19.6, "titleFontWeight": "normal", "titleColor": "#000000", "labelFont": "Liberation Sans", "labelFontSize": 15.4, "labelColor": "#000000", "gradientLength": 84, "gradientThickness": 16, "gradientStrokeWidth": 0, "labelOffset": 7, "titlePadding": 3, "direction": "vertical"}
},
"hconcat": [
{
"title": {"text": "(a)", "orient": "bottom", "anchor": "middle", "font": "Liberation Serif", "fontSize": 22, "fontWeight": "normal", "color": "#000000", "offset": 16, "dx": 20},
"vconcat": [
{
"width": 522, "height": 391,
"title": {"text": "Constrained solutions", "anchor": "start", "frame": "group", "font": "Liberation Sans", "fontSize": 23, "fontWeight": "normal", "color": "#000000", "offset": 4},
"data": {"name": "constrained"},
"mark": {"type": "circle", "size": 22, "opacity": 1},
"encoding": {
"x": {"field": "exergy", "type": "quantitative", "scale": {"domain": [362, 1456], "nice": false, "zero": false},
 "axis": {"title": "Exergy [kWh/m2]", "titlePadding": 1, "values": [450, 600, 750, 900, 1050, 1200, 1350],
 "labelExpr": "datum.value % 300 === 0 ? datum.label : ''",
 "tickOpacity": {"condition": {"test": "datum.value % 300 === 0", "value": 1}, "value": 0},
 "gridWidth": {"condition": {"test": "datum.value % 300 === 0", "value": 1.6}, "value": 0.8}}},
"y": {"field": "discomfort", "type": "quantitative", "scale": {"domain": [-44, 919], "nice": false, "zero": false},
 "axis": {"title": "Discomfort [hours]", "titlePadding": 3, "values": [0, 125, 250, 375, 500, 625, 750, 875],
 "labelExpr": "datum.value % 250 === 0 ? datum.label : ''",
 "tickOpacity": {"condition": {"test": "datum.value % 250 === 0", "value": 1}, "value": 0},
 "gridWidth": {"condition": {"test": "datum.value % 250 === 0", "value": 1.6}, "value": 0.8}}},
"color": {"field": "lcc", "type": "quantitative",
 "scale": {"domain": [39500, 96500], "range": ["#FFFF00", "#FF2200"], "interpolate": "lab"},
 "legend": {"title": "LC", "orient": "none", "legendX": 535, "legendY": 140, "format": "d", "values": [40000, 60000, 80000], "labelExpr": "slice(datum.label, 0, 1)"}}
}
}
]
},
{
"title": {"text": "(b)", "orient": "bottom", "anchor": "middle", "font": "Liberation Serif", "fontSize": 22, "fontWeight": "normal", "color": "#000000", "offset": 16, "dx": 4},
"vconcat": [
{
"width": 517, "height": 391,
"title": {"text": "Pareto solutions", "anchor": "start", "frame": "group", "font": "Liberation Sans", "fontSize": 23, "fontWeight": "normal", "color": "#000000", "offset": 4},
"data": {"name": "pareto"},
"mark": {"type": "circle", "size": 22, "opacity": 1},
"encoding": {
"x": {"field": "exergy", "type": "quantitative", "scale": {"domain": [368, 1304], "nice": false, "zero": false},
 "axis": {"title": "Exergy [kWh/m2]", "titlePadding": 1, "values": [400, 500, 600, 700, 800, 900, 1000, 1100, 1200],
 "labelExpr": "datum.value % 200 === 0 ? datum.label : ''",
 "tickOpacity": {"condition": {"test": "datum.value % 200 === 0", "value": 1}, "value": 0},
 "gridWidth": {"condition": {"test": "datum.value % 200 === 0", "value": 1.6}, "value": 0.8}}},
"y": {"field": "discomfort", "type": "quantitative", "scale": {"domain": [-15.4, 322], "nice": false, "zero": false},
 "axis": {"title": "Discomfort [hours]", "titlePadding": 3, "values": [0, 50, 100, 150, 200, 250, 300],
 "labelExpr": "datum.value % 100 === 0 ? datum.label : ''",
 "tickOpacity": {"condition": {"test": "datum.value % 100 === 0", "value": 1}, "value": 0},
 "gridWidth": {"condition": {"test": "datum.value % 100 === 0", "value": 1.6}, "value": 0.8}}},
"color": {"field": "lcc", "type": "quantitative",
 "scale": {"domain": [39500, 96500], "range": ["#FFFF00", "#FF2200"], "interpolate": "lab"},
 "legend": {"title": "LCC ($USD)", "orient": "none", "legendX": 534, "legendY": 140, "format": "d", "values": [40000, 60000, 80000]}}
}
}
]
}
]
}
